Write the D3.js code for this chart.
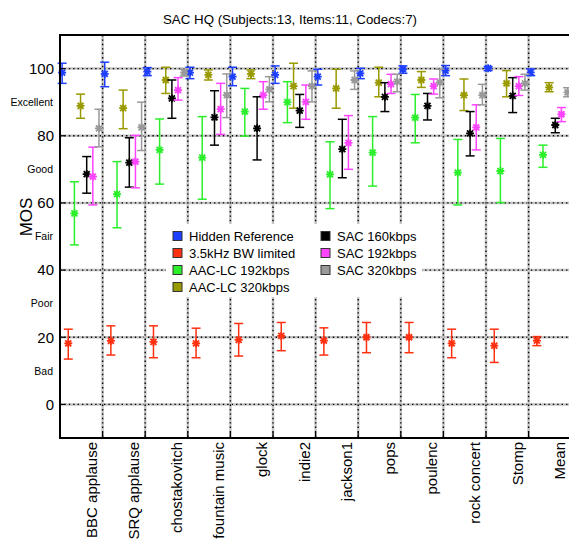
<!DOCTYPE html>
<html>
<head>
<meta charset="utf-8">
<script src="https://cdn.jsdelivr.net/npm/d3@7"></script>
<style>
  body { margin: 0; background: #fff; }
  text { font-family: "Liberation Sans", Arial, sans-serif; }
</style>
</head>
<body>
<div id="chart"></div>
<script>
// test items (x categories)
const items = ["BBC applause", "SRQ applause", "chostakovitch", "fountain music", "glock", "indie2",
               "jackson1", "pops", "poulenc", "rock concert", "Stomp", "Mean"];
const codecs = ["Hidden Reference", "3.5kHz BW limited", "AAC-LC 192kbps", "AAC-LC 320kbps",
                "SAC 160kbps", "SAC 192kbps", "SAC 320kbps"];
const colors = ["#1f3fff", "#ff3010", "#2bef2b", "#999900", "#000000", "#ff44ff", "#999999"];

// each entry: [mean, lower CI, upper CI]
const hiddenRef = [[98.8,95.6,101.6],[98.4,94.6,101.9],[99.1,97.9,100.3],[98.8,97.0,100.4],[97.6,94.9,100.4],[98.1,95.6,100.8],
                   [97.6,95.1,99.8],[98.6,97.0,100.1],[99.8,98.6,100.8],[99.4,97.9,100.9],[100.1,99.4,100.6],[98.9,97.9,99.9]];
const lowpass35 = [[18.2,13.5,22.4],[18.9,14.7,23.4],[18.6,13.9,23.4],[18.2,13.9,22.7],[19.2,14.4,24.1],[20.4,16.0,24.4],
                   [19.0,14.7,22.8],[20.0,15.4,24.4],[20.0,15.4,24.4],[18.2,13.9,22.4],[17.5,12.5,22.4],[19.0,17.5,20.2]];
const aac192 = [[56.9,47.5,66.3],[62.6,52.6,72.3],[75.8,65.6,85.0],[73.5,61.1,85.7],[87.2,79.9,94.1],[90.0,83.9,96.1],
                [68.5,58.3,78.2],[75.0,65.0,85.7],[85.4,77.9,92.3],[69.0,59.4,78.9],[69.5,60.1,79.2],[74.3,70.6,77.2]];
const aac320 = [[88.9,85.2,92.4],[88.2,82.1,93.6],[96.6,92.6,100.4],[98.1,96.6,99.6],[98.4,97.0,99.6],[94.8,88.2,101.6],
                [94.1,88.2,99.8],[95.8,91.6,100.4],[96.6,94.4,99.1],[92.1,87.5,96.9],[95.6,91.6,99.4],[94.4,93.1,95.8]];
const sac160 = [[68.6,62.9,73.8],[72.0,64.7,79.4],[91.1,85.2,96.6],[85.5,77.2,93.4],[82.2,72.8,91.6],[87.5,82.5,92.3],
                [76.0,67.5,84.9],[91.6,87.2,95.8],[88.9,84.7,92.6],[80.7,74.0,87.2],[91.9,86.9,97.3],[83.2,80.9,85.2]];
const sac192 = [[67.8,59.4,76.6],[72.3,64.5,80.1],[93.6,90.6,97.3],[87.9,80.4,95.6],[92.1,87.9,96.1],[90.1,84.9,95.1],
                [77.9,70.0,86.0],[95.4,92.6,98.3],[94.8,92.4,96.9],[82.5,75.8,89.2],[94.8,92.0,97.6],[86.4,84.2,88.4]];
const sac320 = [[82.2,76.7,87.9],[82.5,75.6,90.0],[98.8,97.8,99.8],[92.1,85.4,98.4],[93.8,90.1,97.6],[94.8,90.1,99.3],
                [96.6,93.8,99.3],[96.1,93.1,98.3],[95.9,91.3,99.8],[92.1,89.2,95.3],[95.6,93.6,98.3],[92.9,91.6,94.3]];

const yTicks = [0, 20, 40, 60, 80, 100];
const grades = [["Excellent", 90], ["Good", 70], ["Fair", 50], ["Poor", 30], ["Bad", 10]];

const series = [hiddenRef, lowpass35, aac192, aac320, sac160, sac192, sac320];

const W = 569, H = 541;
const plotLeft = 60, plotTop = 35, plotBottom = 438;

const svg = d3.select("#chart").append("svg")
  .attr("width", W).attr("height", H);

const x = d3.scaleBand().domain(items).range([plotLeft, plotLeft + 42.6 * items.length]);
const bw = x.bandwidth();
const off = d3.scalePoint().domain(codecs).range([0.05 * bw, 0.915 * bw]);
const y = d3.scaleLinear().domain([-10, 110]).range([plotBottom, plotTop]);

// title
svg.append("text")
  .attr("x", 290).attr("y", 24)
  .attr("text-anchor", "middle")
  .style("font-size", "13.3px")
  .text("SAC HQ (Subjects:13, Items:11, Codecs:7)");

// grid
const grid = svg.append("g");
function gridLine(x1, y1, x2, y2) {
  grid.append("line").attr("x1", x1).attr("y1", y1).attr("x2", x2).attr("y2", y2)
    .attr("stroke", "#c4c4c4").attr("stroke-width", 2.5);
  grid.append("line").attr("x1", x1).attr("y1", y1).attr("x2", x2).attr("y2", y2)
    .attr("stroke", "#000").attr("stroke-width", 1.4).attr("stroke-dasharray", "1.4,3");
}
yTicks.forEach(t => gridLine(plotLeft, y(t), W, y(t)));
const tickXs = items.slice(0, -1).map(d => x(d) + bw);
tickXs.forEach(tx => gridLine(tx, plotTop, tx, plotBottom));

// legend background hides the grid under it
svg.append("rect").attr("x", 166).attr("y", 224).attr("width", 256).attr("height", 73)
  .attr("fill", "#fff");

// error bars and markers
const cap = 4.5, r = 4;
series.forEach((data, si) => {
  const g = svg.append("g").attr("stroke", colors[si]);
  data.forEach((d, i) => {
    const cx = x(items[i]) + off(codecs[si]);
    const [m, lo, hi] = d;
    g.append("line").attr("x1", cx).attr("x2", cx).attr("y1", y(lo)).attr("y2", y(hi))
      .attr("stroke-width", 1.5);
    [lo, hi].forEach(v => g.append("line")
      .attr("x1", cx - cap).attr("x2", cx + cap).attr("y1", y(v)).attr("y2", y(v))
      .attr("stroke-width", 1.5));
    const cy = y(m);
    g.append("path")
      .attr("d", `M${cx - r},${cy}H${cx + r}M${cx},${cy - r}V${cy + r}` +
                 `M${cx - r * 0.75},${cy - r * 0.75}L${cx + r * 0.75},${cy + r * 0.75}` +
                 `M${cx - r * 0.75},${cy + r * 0.75}L${cx + r * 0.75},${cy - r * 0.75}`)
      .attr("fill", "none").attr("stroke-width", 1.8);
  });
});

// axes frame
const frame = svg.append("g").attr("stroke", "#000").attr("stroke-width", 2);
frame.append("line").attr("x1", plotLeft).attr("x2", plotLeft).attr("y1", plotTop - 1).attr("y2", plotBottom + 1);
frame.append("line").attr("x1", plotLeft).attr("x2", W).attr("y1", plotTop).attr("y2", plotTop);
frame.append("line").attr("x1", plotLeft).attr("x2", W).attr("y1", plotBottom).attr("y2", plotBottom);
tickXs.forEach(tx => frame.append("line").attr("x1", tx).attr("x2", tx)
  .attr("y1", plotBottom).attr("y2", plotBottom - 6).attr("stroke-width", 1.2));
yTicks.forEach(t => frame.append("line").attr("x1", plotLeft).attr("x2", plotLeft + 5)
  .attr("y1", y(t)).attr("y2", y(t)).attr("stroke-width", 1.2));

// y tick labels
svg.append("g").selectAll("text").data(yTicks).join("text")
  .attr("x", 54).attr("y", d => y(d))
  .attr("dy", "0.36em")
  .attr("text-anchor", "end")
  .style("font-size", "15px")
  .text(d => d);

svg.append("g").selectAll("text").data(grades).join("text")
  .attr("x", 53).attr("y", d => y(d[1]))
  .attr("dy", "0.36em")
  .attr("text-anchor", "end")
  .style("font-size", "10.5px")
  .text(d => d[0]);

svg.append("text")
  .attr("transform", "translate(32,217) rotate(-90)")
  .attr("text-anchor", "middle")
  .style("font-size", "17px")
  .text("MOS");

// x labels, rotated
svg.append("g").selectAll("text").data(items).join("text")
  .attr("transform", d => `translate(${x(d) + bw - 6},${plotBottom + 4}) rotate(-90)`)
  .attr("text-anchor", "end")
  .style("font-size", "15px")
  .text(d => d);

// legend
const leg = svg.append("g");
codecs.forEach((c, i) => {
  const col = i < 4 ? 0 : 1;
  const row = i < 4 ? i : i - 4;
  const lx = col === 0 ? 173 : 321;
  const ly = 236 + row * 17;
  leg.append("rect").attr("x", lx).attr("y", ly - 4.5).attr("width", 9).attr("height", 9)
    .attr("fill", colors[i]).attr("stroke", "#333").attr("stroke-width", 1);
  leg.append("text").attr("x", lx + 16).attr("y", ly).attr("dy", "0.36em")
    .style("font-size", "13px").text(c);
});
</script>
</body>
</html>
